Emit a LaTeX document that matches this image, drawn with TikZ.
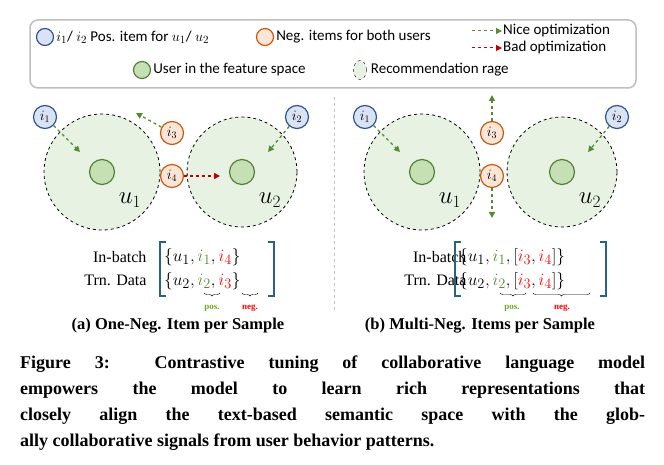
\documentclass[tikz,border=0pt]{standalone}
\usepackage{fontspec}
\setmainfont{Liberation Serif}
\newfontfamily\legfont{Carlito}
\usetikzlibrary{positioning,arrows.meta,decorations.pathreplacing,calc,shapes.geometric}
\definecolor{posblue}{RGB}{47,85,151}
\definecolor{posfill}{RGB}{218,227,243}
\definecolor{negor}{RGB}{197,90,17}
\definecolor{negfill}{RGB}{251,229,214}
\definecolor{usrgreen}{RGB}{84,130,53}
\definecolor{usrfill}{RGB}{197,224,180}
\definecolor{rangefill}{RGB}{232,242,227}
\definecolor{nicegreen}{RGB}{84,140,50}
\definecolor{badred}{RGB}{192,0,0}
\definecolor{setblue}{RGB}{40,100,130}
\begin{document}
\begin{tikzpicture}[x=1pt,y=-1pt,
    positem/.style={circle, draw=posblue, fill=posfill, line width=1.2pt, minimum size=23pt, inner sep=0pt, font=\fontsize{14}{14}\selectfont},
    negitem/.style={circle, draw=negor, fill=negfill, line width=1.2pt, minimum size=23pt, inner sep=0pt, font=\fontsize{14}{14}\selectfont},
    useritem/.style={circle, draw=usrgreen, fill=usrfill, line width=1.2pt, minimum size=25pt, inner sep=0pt},
    recrange/.style={circle, draw, dashed, fill=rangefill, line width=0.8pt, inner sep=0pt},
    niceopt/.style={draw=nicegreen, dashed, line width=1.3pt, -{Triangle[length=6pt,width=6pt]}},
    badopt/.style={draw=badred, dashed, line width=1.3pt, -{Triangle[length=6pt,width=6pt]}},
    legtext/.style={font=\legfont\fontsize{15}{15}\selectfont, anchor=west, inner sep=1pt},
    ulab/.style={font=\fontsize{24}{24}\selectfont},
    rowtext/.style={font=\fontsize{16}{16}\selectfont, align=right},
    subcap/.style={font=\bfseries\fontsize{16.5}{16.5}\selectfont},
    bracenote/.style={font=\bfseries\fontsize{9}{9}\selectfont},
    figcap/.style={anchor=west, inner sep=0pt, font=\bfseries\fontsize{18}{18}\selectfont},
    setrow/.style={anchor=west, font=\fontsize{19}{19}\selectfont, inner sep=0pt}
  ]
  \useasboundingbox (0,0) rectangle (664,465);
  % legend
  \draw[gray!50, line width=1.5pt, rounded corners=8pt] (30,20) rectangle (636,88);
  \node (lpos) [positem, minimum size=17pt] at (45,37) {};
  \node (lpost) [legtext, right=1pt of lpos] {$i_1$/ $i_2$ Pos. item for $u_1$/ $u_2$};
  \node (lneg) [negitem, minimum size=17pt] at (265,37) {};
  \node (lnegt) [legtext, right=1pt of lneg] {Neg. items for both users};
  \coordinate (na) at (472,31); \coordinate (nb) at (502,31);
  \coordinate (ba) at (472,48); \coordinate (bb) at (502,48);
  \draw[niceopt, line width=1pt] (na) -- (nb);
  \draw[badopt, line width=1pt] (ba) -- (bb);
  \node (lnice) [legtext, right=0pt of nb] {Nice optimization};
  \node (lbad) [legtext, right=0pt of bb] {Bad optimization};
  \node (lusr) [useritem, minimum size=17pt] at (142,70) {};
  \node (lusrt) [legtext, right=1pt of lusr] {User in the feature space};
  \node (lrng) [ellipse, draw, dashed, fill=rangefill, minimum width=13pt, minimum height=19pt, inner sep=0pt] at (360,70) {};
  \node (lrngt) [legtext, right=3pt of lrng] {Recommendation rage};
  % separator
  \draw[gray!50, dashed, line width=1pt] (334,97) -- (334,310);
  % panels
  \foreach \p/\dx in {a/0,b/320}{
    \begin{scope}[xshift=\dx]
      \node (r1\p) [recrange, minimum size=116pt] at (102,172) {};
      \node (r2\p) [recrange, minimum size=110pt] at (242,172) {};
      \node (u1\p) [useritem] at (102,172) {};
      \node (u2\p) [useritem] at (242,172) {};
      \node [ulab] at (130,200) {$u_1$};
      \node [ulab] at (270,200) {$u_2$};
      \node (i1\p) [positem] at (45,117) {$i_1$};
      \node (i2\p) [positem] at (297,117) {$i_2$};
      \node (i3\p) [negitem] at (172,133) {$i_3$};
      \node (i4\p) [negitem] at (172,176) {$i_4$};
      \coordinate (t1\p) at (80,152);
      \coordinate (t2\p) at (268,152);
      \draw[niceopt] (i1\p) -- (t1\p);
      \draw[niceopt] (i2\p) -- (t2\p);
      \node [rowtext, anchor=east] at (150,257) {In-batch};
      \node [rowtext, anchor=east] at (150,280) {Trn. Data};
    \end{scope}
  }
  \coordinate (t3a) at (136,113);
  \coordinate (t4a) at (220,176);
  \draw[niceopt] (i3a) -- (t3a);
  \draw[badopt] (i4a) -- (t4a);
  \coordinate (t3b) at (492,95);
  \coordinate (t4b) at (492,218);
  \draw[niceopt] (i3b) -- (t3b);
  \draw[niceopt] (i4b) -- (t4b);
  % sets (a)
  \node (sa1) [setrow] at (164,257) {$\{u_1, \textcolor{nicegreen}{i_1}, \textcolor{red}{i_4}\}$};
  \node (sa2) [setrow] at (164,281) {$\{u_2, \textcolor{nicegreen}{i_2}, \textcolor{red}{i_3}\}$};
  \draw[setblue, line width=1.3pt] (166,242) -- (160,242) -- (160,296) -- (166,296);
  \draw[setblue, line width=1.3pt] (268,242) -- (274,242) -- (274,296) -- (268,296);
  \draw[decorate, decoration={brace, mirror, amplitude=3pt}] (204,293) -- (220,293);
  \draw[decorate, decoration={brace, mirror, amplitude=3pt}] (242,293) -- (258,293);
  \node [bracenote, text=nicegreen!80!yellow] at (212,308) {pos.};
  \node [bracenote, text=red] at (250,308) {neg.};
  \node [subcap] at (178,326) {(a) One-Neg. Item per Sample};
  % sets (b)
  \node (sb1) [setrow] at (459,257) {$\{u_1, \textcolor{nicegreen}{i_1}, [\textcolor{red}{i_3}, \textcolor{red}{i_4}]\}$};
  \node (sb2) [setrow] at (459,281) {$\{u_2, \textcolor{nicegreen}{i_2}, [\textcolor{red}{i_3}, \textcolor{red}{i_4}]\}$};
  \draw[setblue, line width=1.3pt] (461,242) -- (455,242) -- (455,296) -- (461,296);
  \draw[setblue, line width=1.3pt] (600,242) -- (606,242) -- (606,296) -- (600,296);
  \draw[decorate, decoration={brace, mirror, amplitude=3pt}] (500,293) -- (526,293);
  \draw[decorate, decoration={brace, mirror, amplitude=3pt}] (533,293) -- (590,293);
  \node [bracenote, text=nicegreen!80!yellow] at (512,308) {pos.};
  \node [bracenote, text=red] at (562,308) {neg.};
  \node [subcap] at (480,326) {(b) Multi-Neg. Items per Sample};
  % figure caption
  \node (c1) [figcap] at (20,364) {\makebox[625pt][s]{Figure 3: Contrastive tuning of collaborative language model}};
  \node (c2) [figcap] at (20,390) {\makebox[625pt][s]{empowers the model to learn rich representations that}};
  \node (c3) [figcap] at (20,416) {\makebox[625pt][s]{closely align the text-based semantic space with the glob-}};
  \node (c4) [figcap] at (20,442) {ally collaborative signals from user behavior patterns.};
\end{tikzpicture}
\end{document}
